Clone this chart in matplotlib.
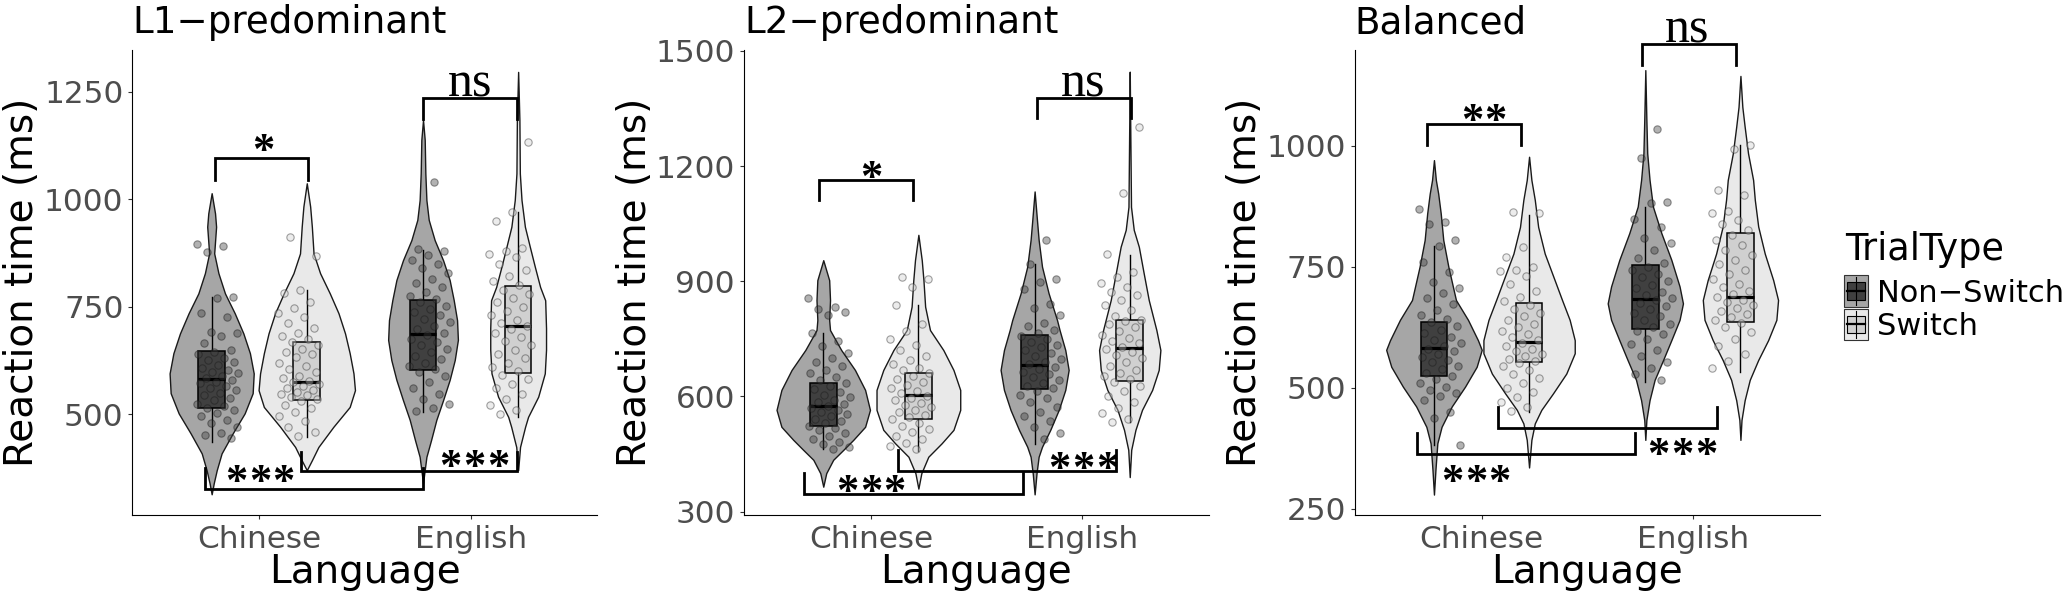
import numpy as np
import matplotlib
matplotlib.use("Agg")
import matplotlib.pyplot as plt
from matplotlib.patches import Rectangle

plt.rcParams['font.family'] = ['DejaVu Sans']

W, H = 2063, 601

titles = ["L1\u2212predominant", "L2\u2212predominant", "Balanced"]
languages = ["Chinese", "English"]
trial_types = ["Non\u2212Switch", "Switch"]

# group order inside each panel: Chinese NS, Chinese Sw, English NS, English Sw
# box stats: lower whisker, q1, median, q3, upper whisker
l1_box = [[436, 514, 582, 647, 773], [448, 533, 576, 667, 789],
          [506, 604, 686, 766, 882], [494, 596, 705, 799, 971]]
l2_box = [[463, 524, 575, 636, 765], [459, 542, 603, 662, 838],
          [475, 620, 682, 760, 945], [534, 641, 726, 799, 969]]
bal_box = [[382, 524, 582, 635, 793], [450, 553, 595, 675, 857],
           [512, 621, 684, 753, 874], [533, 636, 688, 819, 1001]]

# violin outlines: RT levels and half widths (x units)
l1_vy = [[314, 340, 370, 409, 456, 502, 549, 595, 642, 688, 735, 781, 828, 874, 936, 967, 1014],
         [370, 393, 424, 471, 517, 556, 595, 642, 688, 735, 781, 828, 874, 936, 983, 1037],
         [340, 401, 440, 487, 533, 580, 626, 673, 719, 766, 812, 858, 905, 952, 998, 1060, 1138, 1184],
         [370, 424, 471, 494, 541, 595, 650, 700, 765, 796, 843, 890, 936, 998, 1060, 1184, 1296]]
l1_vw = [[0, .01, .024, .047, .10, .156, .194, .199, .181, .15, .109, .063, .032, .012, .021, .016, 0],
         [0, .024, .055, .126, .203, .228, .221, .203, .181, .15, .109, .063, .032, .024, .016, 0],
         [0, .016, .038, .063, .095, .126, .15, .165, .161, .145, .126, .095, .055, .027, .016, .011, .008, 0],
         [0, .009, .033, .047, .095, .126, .132, .132, .128, .104, .079, .055, .032, .016, .008, .006, 0]]
l2_vy = [[365, 400, 435, 461, 487, 521, 565, 617, 669, 721, 773, 799, 851, 903, 955],
         [360, 400, 443, 478, 513, 565, 617, 669, 721, 773, 834, 903, 955, 1021],
         [345, 400, 443, 469, 513, 565, 617, 669, 721, 773, 799, 869, 938, 1008, 1060, 1134],
         [390, 461, 513, 565, 617, 669, 721, 773, 851, 921, 990, 1034, 1094, 1268, 1446]]
l2_vw = [[0, .014, .047, .095, .142, .198, .221, .198, .15, .085, .032, .028, .032, .028, 0],
         [0, .014, .047, .11, .166, .198, .198, .166, .118, .055, .032, .024, .016, 0],
         [0, .009, .019, .035, .074, .114, .145, .161, .145, .118, .106, .066, .035, .019, .011, 0],
         [0, .007, .027, .058, .106, .137, .145, .126, .09, .066, .043, .019, .006, .003, 0]]
bal_vy = [[279, 330, 385, 419, 461, 502, 543, 578, 598, 640, 681, 750, 805, 860, 901, 929, 970],
          [335, 392, 426, 454, 488, 529, 571, 598, 640, 681, 722, 777, 832, 888, 929, 977],
          [392, 433, 474, 516, 557, 598, 640, 674, 709, 764, 819, 874, 929, 984, 1053, 1156],
          [392, 433, 474, 516, 557, 598, 640, 681, 722, 777, 833, 888, 929, 984, 1039, 1080, 1144]]
bal_vw = [[0, .007, .016, .036, .084, .147, .202, .226, .208, .161, .104, .068, .044, .032, .02, .009, 0],
          [0, .011, .027, .058, .113, .176, .216, .216, .192, .156, .121, .074, .043, .027, .011, 0],
          [0, .005, .02, .044, .084, .123, .162, .178, .162, .123, .076, .036, .02, .009, .005, 0],
          [0, .005, .02, .044, .084, .131, .17, .178, .155, .115, .084, .068, .06, .036, .02, .009, 0]]

# individual RTs (ms)
l1_pts = [
    [896, 892, 878, 773, 770, 735, 725, 692, 690, 682, 665, 649, 645, 640, 630, 626, 622, 615, 607, 603, 598, 595, 590,
     585, 580, 575, 572, 565, 560, 556, 549, 545, 538, 533, 525, 520, 515, 510, 502, 495, 486, 479, 471, 457, 452, 444],
    [913, 868, 790, 782, 760, 748, 735, 725, 712, 700, 690, 683, 675, 668, 660, 652, 645, 640, 632, 620, 612, 605, 598,
     590, 584, 578, 575, 570, 565, 560, 556, 552, 548, 545, 540, 536, 530, 522, 515, 505, 495, 485, 470, 458, 450],
    [1041, 884, 880, 870, 858, 850, 840, 828, 815, 805, 795, 785, 775, 768, 760, 752, 745, 738, 730, 722, 714, 705, 698,
     690, 684, 676, 668, 660, 652, 645, 636, 628, 620, 612, 605, 598, 588, 575, 560, 548, 535, 525, 515, 508],
    [1134, 971, 950, 886, 880, 872, 865, 850, 836, 822, 810, 800, 790, 780, 770, 760, 750, 740, 730, 720, 712, 705, 698,
     690, 680, 670, 660, 650, 640, 630, 620, 610, 600, 592, 582, 570, 560, 548, 535, 522, 510, 500]]
l2_pts = [
    [856, 834, 828, 821, 812, 766, 745, 732, 712, 700, 690, 680, 670, 660, 650, 642, 636, 628, 620, 612, 605, 598, 592,
     585, 580, 575, 570, 565, 560, 554, 548, 542, 536, 530, 524, 518, 512, 505, 497, 490, 482, 475, 468, 463],
    [910, 906, 884, 837, 790, 770, 750, 735, 720, 705, 695, 685, 675, 668, 660, 652, 645, 638, 630, 622, 615, 608, 602,
     596, 590, 584, 578, 572, 566, 560, 553, 546, 540, 532, 524, 516, 508, 498, 488, 478, 470, 462],
    [1008, 945, 906, 899, 880, 841, 830, 812, 791, 784, 772, 765, 758, 750, 742, 735, 728, 720, 712, 705, 698, 690, 684,
     678, 672, 665, 658, 650, 642, 635, 628, 622, 615, 605, 595, 585, 572, 560, 548, 535, 520, 505, 490],
    [1303, 1129, 970, 923, 912, 895, 884, 873, 865, 850, 838, 825, 810, 800, 797, 790, 780, 770, 760, 752, 745, 738, 730,
     724, 716, 708, 700, 690, 680, 670, 660, 652, 645, 638, 628, 615, 600, 585, 570, 556, 542, 534]]
bal_pts = [
    [870, 843, 838, 804, 793, 760, 738, 719, 705, 695, 685, 673, 660, 650, 642, 636, 628, 620, 612, 605, 598, 592, 586,
     580, 575, 570, 564, 558, 552, 545, 538, 530, 524, 518, 510, 502, 495, 488, 482, 475, 450, 437, 382],
    [863, 860, 791, 769, 749, 743, 740, 730, 715, 700, 687, 678, 670, 662, 655, 648, 640, 632, 625, 618, 610, 604, 598,
     592, 586, 580, 575, 570, 565, 560, 555, 550, 544, 536, 528, 520, 510, 500, 490, 480, 470, 460, 452],
    [1034, 974, 884, 881, 848, 832, 810, 798, 784, 767, 758, 750, 742, 735, 728, 720, 712, 705, 698, 692, 686, 680, 674,
     668, 662, 655, 648, 640, 632, 625, 618, 610, 600, 590, 578, 565, 552, 540, 528, 515],
    [1001, 992, 908, 898, 864, 860, 846, 838, 826, 815, 805, 795, 785, 775, 764, 755, 744, 735, 725, 715, 708, 700, 694,
     688, 682, 676, 670, 664, 658, 652, 646, 640, 634, 625, 615, 600, 585, 570, 555, 540]]

# significance brackets: x1, x2, line y, tip y, label, label x, label baseline y
l1_sig = [(0.79, 1.23, 1096, 1045, "*", 1.017, 1084),
          (1.775, 2.22, 1235, 1186, "ns", 1.996, 1238),
          (0.743, 1.775, 327, 376, "***", 1.003, 314),
          (1.2, 2.22, 367, 412, "***", 2.017, 349)]
l2_sig = [(0.756, 1.201, 1164, 1112, "*", 1.003, 1139),
          (1.786, 2.232, 1377, 1325, "ns", 2.006, 1381),
          (0.682, 1.721, 345, 400, "***", 1.0, 321),
          (1.129, 2.16, 405, 460, "***", 2.006, 381)]
bal_sig = [(0.74, 1.185, 1045, 1001, "**", 1.011, 1026),
           (1.76, 2.205, 1210, 1166, "ns", 1.973, 1214),
           (0.693, 1.725, 363, 406, "***", 0.973, 280),
           (1.078, 2.114, 416, 459, "***", 1.95, 336)]

y_ticks = [[500, 750, 1000, 1250], [300, 600, 900, 1200, 1500], [250, 500, 750, 1000]]
y_lims = [(266.5, 1347.4), (292, 1503), (237.4, 1198)]

violin_fill = ["#a6a6a6", "#e9e9e9"]
box_fill = ["#404040", "#d0d0d0"]
pt_face = [(0.25, 0.25, 0.25, 0.4), (0.82, 0.82, 0.82, 0.4)]
pt_edge = [(0.1, 0.1, 0.1, 0.45), (0.2, 0.2, 0.2, 0.45)]
serif = ["Liberation Serif", "DejaVu Serif"]

fig = plt.figure(figsize=(W / 100, H / 100), dpi=100)


def px(x, y):
    return x / W, 1 - y / H


panel_left = [132.4, 744.0, 1354.7]
panel_top, panel_bot = 49.8, 514.7
panel_w = 465.0

all_box = [l1_box, l2_box, bal_box]
all_vy = [l1_vy, l2_vy, bal_vy]
all_vw = [l1_vw, l2_vw, bal_vw]
all_pts = [l1_pts, l2_pts, bal_pts]
all_sig = [l1_sig, l2_sig, bal_sig]

dodge = 0.225
bw = 0.126
star_step = 0.112  # spacing between asterisks, x units

for p in range(3):
    left = panel_left[p]
    ax = fig.add_axes([left / W, 1 - panel_bot / H, panel_w / W, (panel_bot - panel_top) / H])
    ax.set_xlim(0.4, 2.6)
    ax.set_ylim(*y_lims[p])
    for g in range(4):
        lang, tt = g // 2, g % 2
        xc = lang + 1 + (dodge if tt else -dodge)
        vy = np.array(all_vy[p][g])
        vw = np.array(all_vw[p][g])
        ax.fill_betweenx(vy, xc - vw, xc + vw, facecolor=violin_fill[tt],
                         edgecolor="#1a1a1a", linewidth=1.0, zorder=1)
        lo, q1, med, q3, hi = all_box[p][g]
        ax.plot([xc, xc], [lo, q1], color="black", lw=1.0, zorder=2)
        ax.plot([xc, xc], [q3, hi], color="black", lw=1.0, zorder=2)
        ax.add_patch(Rectangle((xc - bw / 2, q1), bw, q3 - q1, facecolor=box_fill[tt],
                               edgecolor="black", lw=1.1, zorder=3))
        ax.plot([xc - bw / 2, xc + bw / 2], [med, med], color="black", lw=2.3,
                solid_capstyle="butt", zorder=4)
        ys = np.array(all_pts[p][g])
        k = np.arange(len(ys))
        jit = ((k * 0.618034 + 0.31 * g) % 1 - 0.5) * 0.2
        pc = xc + (0.03 if tt == 0 else -0.04)
        ax.scatter(pc + jit, ys, s=28, facecolor=pt_face[tt], edgecolor=pt_edge[tt],
                   linewidths=0.8, zorder=5)
    for x1, x2, yl, yt, lab, tx, ty in all_sig[p]:
        ax.plot([x1, x1, x2, x2], [yt, yl, yl, yt], color="black", lw=2.0,
                solid_joinstyle="miter", clip_on=False, zorder=6)
        if lab == "ns":
            ax.text(tx, ty, lab, ha="center", va="baseline", fontsize=36,
                    family=serif, zorder=7, clip_on=False)
        else:
            n = len(lab)
            for j in range(n):
                ax.text(tx + (j - (n - 1) / 2) * star_step, ty, "*", ha="center", va="baseline",
                        fontsize=32, family=serif, weight="bold", zorder=7, clip_on=False)
    for s in ["top", "right"]:
        ax.spines[s].set_visible(False)
    for s in ["left", "bottom"]:
        ax.spines[s].set_linewidth(0.8)
        ax.spines[s].set_color("black")
    ax.set_yticks(y_ticks[p])
    ax.set_xticks([1, 2])
    ax.set_xticklabels(languages)
    ax.tick_params(axis="both", direction="out", length=3.2, width=0.8, color="#333333",
                   labelsize=22.4, labelcolor="#4d4d4d")
    ax.tick_params(axis="x", pad=4.0)
    ax.tick_params(axis="y", pad=3.2)

    cx = left + panel_w / 2
    fig.text(*px(left, 33.3), titles[p], ha="left", va="baseline", fontsize=26.8)
    fig.text(*px(cx, 582.6), "Language", ha="center", va="baseline", fontsize=28)
    ylab_x = [33.3, 646, 1256][p]
    fig.text(*px(ylab_x, 282), "Reaction time (ms)", rotation=90, rotation_mode="anchor",
             ha="center", va="baseline", fontsize=28)

# legend
lax = fig.add_axes([0, 0, 1, 1], facecolor="none")
lax.set_xlim(0, W)
lax.set_ylim(H, 0)
lax.axis("off")
lax.text(1844.8, 260, "TrialType", ha="left", va="baseline", fontsize=26.4)
key_x, key_w, key_h = 1844, 24, 31.5
for i, (ky, lab) in enumerate(zip([275, 308.5], trial_types)):
    lax.add_patch(Rectangle((key_x, ky), key_w, key_h, facecolor=violin_fill[i],
                            edgecolor="#333333", lw=0.8))
    mid = key_x + key_w / 2
    lax.plot([mid, mid], [ky + 2, ky + key_h - 2], color="black", lw=0.8)
    lax.add_patch(Rectangle((key_x + 3, ky + 7), key_w - 6, key_h - 14, facecolor=box_fill[i],
                            edgecolor="black", lw=0.8))
    lax.plot([key_x + 3, key_x + key_w - 3], [ky + key_h / 2, ky + key_h / 2], color="black", lw=1.6)
    lax.text(1877, ky + key_h / 2 + 11, lab, ha="left", va="baseline", fontsize=22)

fig.savefig("out.png", dpi=100)
